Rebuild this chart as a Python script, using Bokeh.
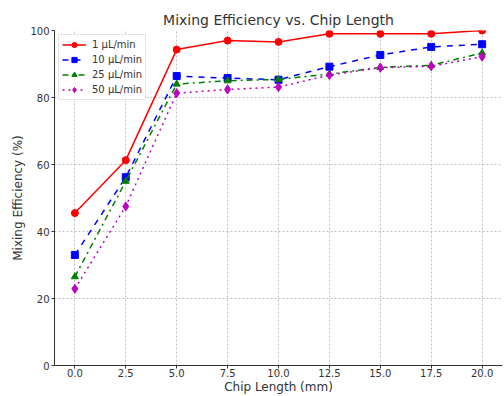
from bokeh.plotting import figure
from bokeh.embed import file_html
from bokeh.resources import INLINE
from bokeh.models import Range1d, FixedTicker, NumeralTickFormatter

chip_length = [0.0, 2.5, 5.0, 7.5, 10.0, 12.5, 15.0, 17.5, 20.0]
eff_1 = [45.5, 61.3, 94.3, 97.0, 96.6, 99.0, 99.0, 99.0, 100.0]
eff_10 = [33.0, 56.2, 86.4, 85.8, 85.3, 89.2, 92.7, 95.1, 95.9]
eff_25 = [26.5, 55.0, 84.0, 85.0, 85.4, 87.0, 89.0, 89.6, 93.3]
eff_50 = [22.9, 47.5, 81.3, 82.4, 83.1, 86.7, 88.9, 89.3, 92.2]
labels = ["1 µL/min", "10 µL/min", "25 µL/min", "50 µL/min"]
y_ticks = [0, 20, 40, 60, 80, 100]

FONT = "DejaVu Sans"
p = figure(width=504, height=396, output_backend="svg", toolbar_location=None,
           x_range=Range1d(-1, 21), y_range=Range1d(0, 100),
           title="Mixing Efficiency vs. Chip Length",
           min_border_left=54, min_border_right=2, min_border_top=30, min_border_bottom=30)
p.title.align = "center"
p.title.text_font = FONT
p.title.text_font_size = "14px"
p.title.text_font_style = "normal"
p.title.text_color = "#333333"
p.title.standoff = 5

series = [
    (eff_1, "red", "solid", "circle", 7),
    (eff_10, "blue", "dashed", "square", 7),
    (eff_25, "green", "dashdot", "triangle", 7),
    (eff_50, "#bf00bf", "dotted", "diamond", 9),
]
for (vals, col, dash, mk, sz), lab in zip(series, labels):
    p.line(chip_length, vals, line_color=col, line_dash=dash, line_width=1.5, legend_label=lab)
    p.scatter(chip_length, vals, marker=mk, size=sz, fill_color=col, line_color=col, legend_label=lab)

p.xaxis.ticker = FixedTicker(ticks=chip_length)
p.xaxis.formatter = NumeralTickFormatter(format="0.0")
p.yaxis.ticker = FixedTicker(ticks=y_ticks)
for ax in (p.xaxis, p.yaxis):
    ax.minor_tick_line_color = None
    ax.major_label_text_font = FONT
    ax.major_label_text_font_size = "10px"
    ax.major_label_text_color = "#333333"
    ax.axis_label_text_font = FONT
    ax.axis_label_text_font_size = "12px"
    ax.axis_label_text_font_style = "normal"
    ax.axis_label_text_color = "#333333"
    ax.axis_line_color = "#333333"
    ax.major_tick_line_color = "#333333"
    ax.major_tick_out = 3
    ax.major_tick_in = 0
    ax.major_label_standoff = 2
p.xaxis.major_label_standoff = 0
p.xaxis.axis_label_standoff = 0
p.yaxis.axis_label_standoff = 2
p.xaxis.axis_label = "Chip Length (mm)"
p.yaxis.axis_label = "Mixing Efficiency (%)"

p.grid.grid_line_color = "#b0b0b0"
p.grid.grid_line_dash = "2 2"
p.grid.grid_line_width = 0.8
p.outline_line_color = None

p.legend.location = "top_left"
p.legend.label_text_font = FONT
p.legend.label_text_font_size = "10px"
p.legend.label_text_color = "#333333"
p.legend.glyph_width = 24
p.legend.glyph_height = 13
p.legend.label_height = 13
p.legend.label_standoff = 6
p.legend.spacing = 2
p.legend.padding = 3
p.legend.margin = 4
p.legend.border_line_color = "#cccccc"
p.legend.background_fill_alpha = 0.9

open("out.html", "w").write(file_html(p, INLINE))
